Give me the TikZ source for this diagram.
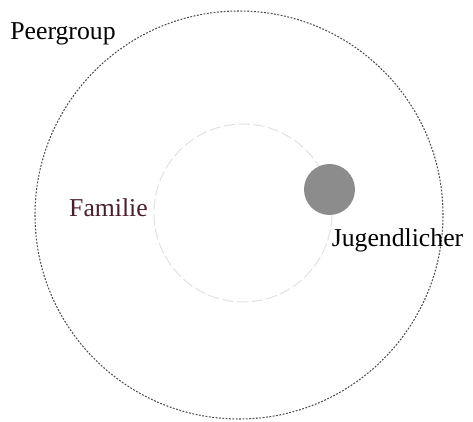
\documentclass[tikz,border=0pt]{standalone}
\usepackage{fontspec}
\setmainfont{Liberation Serif}
\usetikzlibrary{positioning}

\begin{document}
\begin{tikzpicture}[x=1cm, y=1cm,
  ring/.style={draw, circle, inner sep=0pt, minimum size=#1},
  lbl/.style={font=\rmfamily\fontsize{18.3}{21}\selectfont, inner sep=0pt}]
\useasboundingbox (0,0) rectangle (11.825,10.525);
\node[ring=10.2cm, draw=black!70, line width=0.75pt, dash pattern=on 1.3pt off 1.1pt] (peer) at (5.975,5.15) {};
\node[ring=4.45cm, draw=black!12, line width=0.7pt, dash pattern=on 8pt off 2.5pt] (fam) at (6.075,5.2) {};
\node[ring=1.275cm, draw=none, fill=black!45] (jug) at (8.2375,5.7875) {};
\node[lbl] (peerlbl) at (1.575,9.675) {Peergroup};
\node[lbl, text={rgb,255:red,75;green,30;blue,45}] (famlbl) at (2.7125,5.33) {Familie};
\node[lbl, below right=0.33cm and 0.05cm of jug.south] (juglbl) {Jugendlicher};
\end{tikzpicture}
\end{document}
